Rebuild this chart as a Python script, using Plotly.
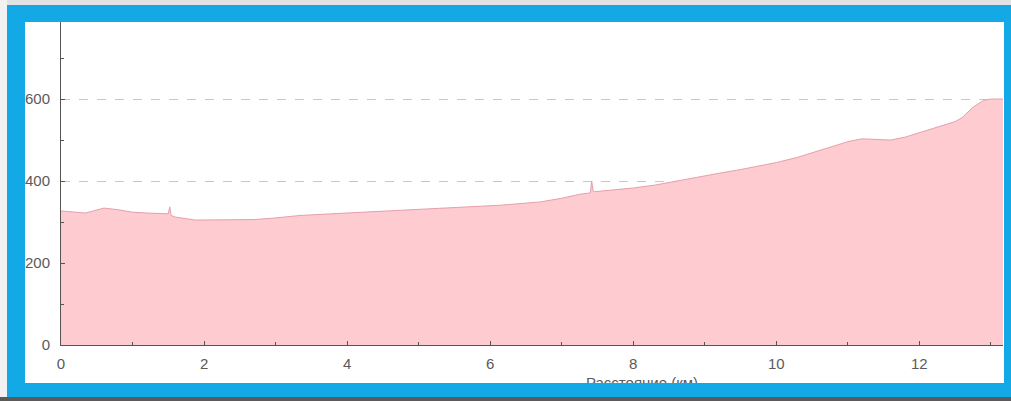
import plotly.graph_objects as go

distance_km = [0.0, 0.1, 0.2, 0.34, 0.45, 0.6, 0.8, 1.0, 1.2, 1.4, 1.5, 1.52, 1.54, 1.6, 1.87,
               2.0, 2.7, 3.0, 3.34, 4.0, 4.74, 5.5, 6.14, 6.7, 7.0, 7.26, 7.4, 7.42, 7.44, 7.46,
               7.6, 8.0, 8.3, 8.6, 8.9, 9.2, 9.5, 9.8, 10.0, 10.3, 10.6, 10.8, 11.0, 11.2, 11.4, 11.6,
               11.8, 12.0, 12.3, 12.5, 12.6, 12.75, 12.9, 13.0, 13.17]
elevation_m = [327, 326, 324, 322, 327, 334, 330, 324, 322, 321, 320, 337, 316, 312, 305,
               305, 306, 310, 316, 322, 329, 335, 341, 349, 358, 368, 371, 400, 375, 374,
               376, 383, 390, 400, 410, 419, 428, 438, 445, 458, 474, 485, 496, 503, 501, 500,
               507, 518, 534, 545, 555, 580, 597, 600, 600]

x_tick_vals = [0, 2, 4, 6, 8, 10, 12]
y_tick_vals = [0, 200, 400, 600]
x_title = "Расстояние (км)"

W, H = 1011, 401
L, R, T, B = 61, 8, 22, 56
PW, PH = W - L - R, H - T - B

def px(x):
    return (x - L) / PW

def py(y):
    return (H - B - y) / PH

BLUE = "#12a9e6"

fig = go.Figure()
fig.add_trace(go.Scatter(
    x=distance_km, y=elevation_m, mode="lines", fill="tozeroy",
    fillcolor="#fdcbd0", line=dict(color="#e6a0a7", width=1), hoverinfo="skip",
))

axis_font = dict(family="Liberation Sans, Arial, sans-serif", size=15, color="#5a5a5a")

fig.update_xaxes(
    range=[0, 13.17], tickvals=x_tick_vals, ticks="inside", ticklen=4, tickcolor="#555",
    showline=True, linecolor="#555", linewidth=1, showgrid=False, zeroline=False,
    tickfont=axis_font, ticklabelstandoff=5,
    minor=dict(dtick=1, tick0=0, ticks="inside", ticklen=3, tickcolor="#555", showgrid=False),
)
fig.update_yaxes(
    range=[0, 788], tickvals=y_tick_vals, ticks="inside", ticklen=4, tickcolor="#555",
    showline=True, linecolor="#555", linewidth=1, showgrid=True, gridcolor="#c8c8c8",
    griddash="dash", gridwidth=1, zeroline=False, tickfont=axis_font, ticklabelstandoff=7,
    minor=dict(dtick=100, tick0=0, ticks="inside", ticklen=3, tickcolor="#555", showgrid=False),
)

shapes = [
    # outer light background strips
    dict(type="rect", x0=px(0), x1=px(W), y0=py(0), y1=py(5), fillcolor="#e2e2e2", line_width=0),
    dict(type="rect", x0=px(0), x1=px(7), y0=py(0), y1=py(H), fillcolor="#f2f2f2", line_width=0),
    dict(type="rect", x0=px(0), x1=px(W), y0=py(397), y1=py(H), fillcolor="#5a5a5a", line_width=0),
    # blue frame
    dict(type="rect", x0=px(7), x1=px(W), y0=py(5), y1=py(22), fillcolor=BLUE, line_width=0),
    dict(type="rect", x0=px(7), x1=px(25), y0=py(5), y1=py(397), fillcolor=BLUE, line_width=0),
    dict(type="rect", x0=px(1004), x1=px(W), y0=py(5), y1=py(397), fillcolor=BLUE, line_width=0),
    dict(type="rect", x0=px(7), x1=px(W), y0=py(383), y1=py(397), fillcolor=BLUE, line_width=0),
]
for s in shapes:
    s.update(xref="paper", yref="paper", layer="above")

annotations = [
    dict(text=x_title, xref="paper", yref="paper", x=px(642), y=py(372), xanchor="center",
         yanchor="top", showarrow=False,
         font=dict(family="Liberation Sans, Arial, sans-serif", size=15, color="#5a5a5a")),
    # bottom blue strip drawn over the title so it is cut like in the source
    dict(text=" ", xref="paper", yref="paper", x=px(7), y=py(383), xanchor="left", yanchor="top",
         showarrow=False, width=W - 7, height=14, bgcolor=BLUE, borderpad=0, borderwidth=0,
         font=dict(size=1)),
]

fig.update_layout(
    width=W, height=H, margin=dict(l=L, r=R, t=T, b=B),
    paper_bgcolor="white", plot_bgcolor="white", showlegend=False,
    shapes=shapes, annotations=annotations,
)

fig.write_html(
    "out.html",
    config={"displayModeBar": False},
    post_script="document.body.style.margin='0';document.body.style.padding='0';"
                "document.body.style.overflow='hidden';",
)
